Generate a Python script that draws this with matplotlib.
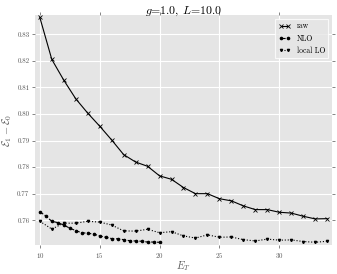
import matplotlib
matplotlib.use("Agg")
import matplotlib.pyplot as plt

raw_x = list(range(10, 35))
raw_y = [0.8363, 0.8205, 0.8127, 0.8057, 0.8003, 0.7954, 0.7902, 0.7847, 0.7819,
         0.7803, 0.7767, 0.7754, 0.7723, 0.7700, 0.7700, 0.7681, 0.7673, 0.7654,
         0.7640, 0.7640, 0.7630, 0.7627, 0.7615, 0.7605, 0.7606]

nlo_x = [10 + 0.5 * i for i in range(21)]
nlo_y = [0.7632, 0.7616, 0.7596, 0.7591, 0.7582, 0.7570, 0.7561, 0.7553, 0.7551,
         0.7548, 0.7541, 0.7536, 0.7531, 0.7530, 0.7527, 0.7523, 0.7522, 0.7521,
         0.7518, 0.7518, 0.7517]

lo_x = list(range(10, 35))
lo_y = [0.7596, 0.7567, 0.7589, 0.7589, 0.7596, 0.7593, 0.7582, 0.7560, 0.7559,
        0.7566, 0.7553, 0.7557, 0.7541, 0.7533, 0.7545, 0.7536, 0.7537, 0.7527,
        0.7522, 0.7529, 0.7525, 0.7526, 0.7520, 0.7517, 0.7521]

plt.rcParams['font.family'] = 'serif'
plt.rcParams['font.serif'] = ['cmr10']
plt.rcParams['mathtext.fontset'] = 'cm'
plt.rcParams['axes.formatter.use_mathtext'] = True

fig = plt.figure(figsize=(3.37, 2.74), dpi=100)
ax = fig.add_axes([0.104, 0.106, 0.881, 0.839])
ax.set_facecolor('#E5E5E5')
for s in ax.spines.values():
    s.set_visible(False)
ax.grid(True, color='white', linewidth=0.8)
ax.set_axisbelow(True)

ax.plot(raw_x, raw_y, 'x-', color='black', lw=0.8, ms=3, mew=0.6, label='raw')
ax.plot(nlo_x, nlo_y, 'o--', color='black', lw=0.8, ms=1.6, label='NLO')
ax.plot(lo_x, lo_y, 'v:', color='black', lw=0.8, ms=1.6, label='local LO')

ax.set_xlim(9.6, 34.4)
ax.set_ylim(0.7507, 0.8372)
ax.set_xticks([10, 15, 20, 25, 30])
ax.set_yticks([0.76, 0.77, 0.78, 0.79, 0.80, 0.81, 0.82, 0.83])
ax.set_yticklabels(['0.76', '0.77', '0.78', '0.79', '0.80', '0.81', '0.82', '0.83'])
ax.tick_params(axis='both', direction='out', length=2, width=0.5, color='#555555',
               labelcolor='#555555', labelsize=5, top=True, right=True, pad=2)

ax.set_title('$g$=1.0, $L$=10.0', fontsize=8.5, pad=1)
ax.set_xlabel('$E_T$', fontsize=7.5, color='#555555', labelpad=0)
ax.set_ylabel(r'$\mathcal{E}_1-\mathcal{E}_0$', fontsize=7.5, color='#555555', labelpad=2)

leg = ax.legend(loc='upper right', fontsize=5.5, numpoints=2, handlelength=1.6,
                frameon=True, fancybox=False, borderpad=0.4, labelspacing=0.5)
leg.get_frame().set_facecolor('#E5E5E5')
leg.get_frame().set_edgecolor('white')
leg.get_frame().set_linewidth(0.8)

fig.savefig('out.png', dpi=100)
